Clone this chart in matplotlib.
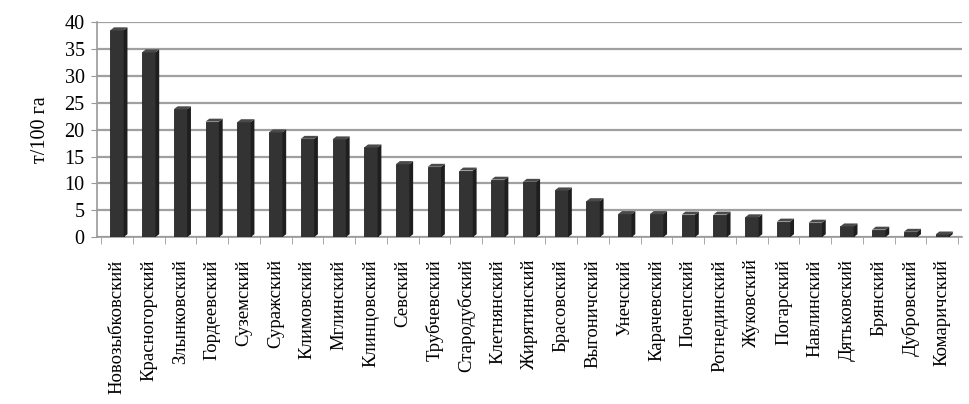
import numpy as np
import matplotlib.pyplot as plt
from matplotlib.patches import Polygon

# Районы и значения (т/100 га)
rayony = ["Новозыбковский", "Красногорский", "Злынковский", "Гордеевский", "Суземский",
          "Суражский", "Климовский", "Мглинский", "Клинцовский", "Севский",
          "Трубчевский", "Стародубский", "Клетнянский", "Жирятинский", "Брасовский",
          "Выгоничский", "Унечский", "Карачевский", "Почепский", "Рогнединский",
          "Жуковский", "Погарский", "Навлинский", "Дятьковский", "Брянский",
          "Дубровский", "Комаричский"]
znacheniya = [38.5, 34.4, 23.8, 21.5, 21.4, 19.5, 18.3, 18.2, 16.7, 13.6,
              13.1, 12.4, 10.7, 10.3, 8.7, 6.7, 4.3, 4.3, 4.2, 4.2,
              3.7, 2.9, 2.7, 2.0, 1.4, 1.0, 0.5]
podpisi_y = [0, 5, 10, 15, 20, 25, 30, 35, 40]

plt.rcParams['font.family'] = ['Liberation Serif', 'DejaVu Serif']

fig = plt.figure(figsize=(9.7, 4.04), dpi=100)
ax = fig.add_axes([0.1, 0.413, 0.892, 0.532])

x = np.arange(len(rayony))
shirina = 0.42
ax.bar(x, znacheniya, width=shirina, color="#333333", edgecolor="#262626", lw=0.6, zorder=3)

# псевдо-3D: боковая и верхняя грани
dx, dy = 0.12, 0.55
for xi, v in zip(x, znacheniya):
    r = xi + shirina / 2
    l = xi - shirina / 2
    ax.add_patch(Polygon([(r, 0), (r + dx, dy), (r + dx, v + dy), (r, v)],
                         closed=True, facecolor="#1e1e1e", edgecolor="none", zorder=3))
    ax.add_patch(Polygon([(l, v), (l + dx, v + dy), (r + dx, v + dy), (r, v)],
                         closed=True, facecolor="#4a4a4a", edgecolor="none", zorder=3))

ax.set_xlim(-0.63, len(rayony) - 0.37)
ax.set_ylim(0, 40)
ax.set_yticks(podpisi_y)
ax.set_yticklabels([str(t) for t in podpisi_y], fontsize=14.5)
ax.yaxis.grid(True, color="#a0a0a0", lw=1.6, zorder=0)
ax.set_axisbelow(True)

ax.set_xticks(x)
ax.set_xticklabels(rayony, rotation=90, fontsize=13.5)
ax.set_xticks(np.arange(-0.5, len(rayony), 1), minor=True)
ax.tick_params(axis="x", which="major", length=0, pad=16)
ax.tick_params(axis="x", which="minor", length=5, color="#999999", direction="out")
ax.tick_params(axis="y", length=4, color="#999999", pad=5)

for s in ["top", "right"]:
    ax.spines[s].set_visible(False)
ax.spines["left"].set_color("#999999")
ax.spines["bottom"].set_color("#999999")
ax.spines["left"].set_linewidth(1.2)
ax.spines["bottom"].set_linewidth(1.2)

ax.set_ylabel("т/100 га", fontsize=14.5, labelpad=10)

fig.savefig("out.png", dpi=100)
